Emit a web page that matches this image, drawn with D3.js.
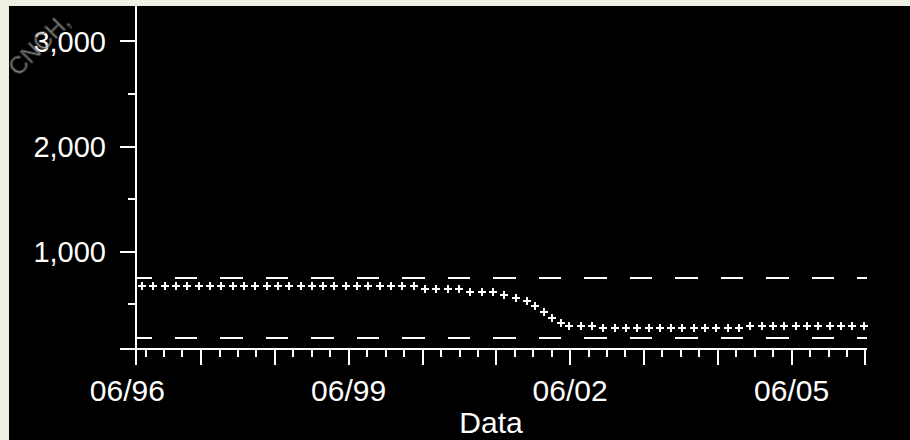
<!DOCTYPE html>
<html><head><meta charset="utf-8">
<script src="https://cdn.jsdelivr.net/npm/d3@7"></script>
<style>
html,body{margin:0;padding:0;background:#eef0e2;}
svg{display:block;}
text{font-family:"Liberation Sans",Arial,sans-serif;}
</style></head>
<body>
<svg id="chart" width="910" height="440"></svg>
<script>
// ---- data ----
const dates = [
  "1996-08-13","1996-10-08","1996-12-03","1997-01-28","1997-03-25","1997-05-20",
  "1997-07-15","1997-09-09","1997-11-04","1997-12-30","1998-02-24","1998-04-21",
  "1998-06-16","1998-08-11","1998-10-06","1998-12-01","1999-01-26","1999-03-23",
  "1999-05-18","1999-07-13","1999-09-07","1999-11-02","1999-12-28","2000-02-22",
  "2000-04-18","2000-06-13","2000-08-08","2000-10-03","2000-11-28","2001-01-23",
  "2001-03-20","2001-05-15","2001-07-10","2001-09-04","2001-10-30","2001-12-11",
  "2002-01-22","2002-03-05","2002-04-16","2002-05-28","2002-07-23","2002-09-17",
  "2002-11-12","2003-01-07","2003-03-04","2003-04-29","2003-06-24","2003-08-19",
  "2003-10-14","2003-12-09","2004-02-03","2004-03-30","2004-05-25","2004-07-20",
  "2004-09-14","2004-11-09","2005-01-04","2005-03-01","2005-04-26","2005-06-21",
  "2005-08-16","2005-10-11","2005-12-06","2006-01-31","2006-03-28","2006-05-23"
];
const values = [
  675,675,675,675,675,675,675,675,675,675,675,675,675,675,675,675,675,675,675,675,
  675,675,675,675,675,647,647,647,647,617,617,617,587,561,534,487,427,374,325,297,
  297,297,273,273,273,273,273,273,273,273,273,273,273,273,273,297,297,297,297,297,
  297,297,297,297,297,297
];
const upperLimit = 755;
const lowerLimit = 184;
const xDomain = ["1996-07-14","2006-06-04"];
const yDomain = [75.5, 3337];
const yMajorTicks = [1000, 2000, 3000];
const yMinorTicks = [500, 1500, 2500];
const xLabelDates = ["1996-06-01","1999-06-01","2002-06-01","2005-06-01"];
const xTitle = "Data";
const watermark = "CNCH,";

// ---- drawing ----
const parse = d3.timeParse("%Y-%m-%d");
const svg = d3.select("#chart");
const W = 910, H = 440;

svg.append("rect").attr("x",9).attr("y",6).attr("width",W-9).attr("height",H-6).attr("fill","#000");

const x = d3.scaleTime().domain(xDomain.map(parse)).range([136, 866]);
const y = d3.scaleLinear().domain(yDomain).range([349, 6]);

const months = d3.timeMonth.range(x.domain()[0], x.domain()[1]).filter(d => (d.getMonth() - 5 + 12) % 3 === 0);
const xMajor = months.filter(d => d.getMonth() === 5);
const xMinor = months.filter(d => d.getMonth() !== 5);

function styleAxis(g){
  g.select(".domain").remove();
  g.selectAll("line").attr("stroke","#fff").attr("stroke-width",2).attr("shape-rendering","crispEdges");
  g.selectAll("text").attr("fill","#fff");
}

// x ticks
svg.append("g").attr("transform","translate(0,349)")
  .call(d3.axisBottom(x).offset(0).tickValues(xMajor).tickSize(16).tickFormat(""))
  .call(styleAxis);
svg.append("g").attr("transform","translate(0,349)")
  .call(d3.axisBottom(x).offset(0).tickValues(xMinor).tickSize(8).tickFormat(""))
  .call(styleAxis);
// x labels
const xl = svg.append("g").attr("transform","translate(0,349)")
  .call(d3.axisBottom(x).offset(0).tickValues(xLabelDates.map(parse)).tickSize(0).tickPadding(0).tickFormat(d3.timeFormat("%m/%y")))
  .call(styleAxis);
xl.selectAll("text").attr("font-size",30).attr("y",52).attr("dy",0);

// y ticks
svg.append("g").attr("transform","translate(136,0)")
  .call(d3.axisLeft(y).offset(0).tickValues(yMajorTicks).tickSize(16).tickPadding(14).tickFormat(d3.format(",")))
  .call(styleAxis)
  .call(g => g.selectAll("text").attr("font-size",29).attr("dy","0.36em"));
svg.append("g").attr("transform","translate(136,0)")
  .call(d3.axisLeft(y).offset(0).tickValues(yMinorTicks).tickSize(8).tickFormat(""))
  .call(styleAxis);

// axis lines (extend past the corner like the reference)
svg.append("line").attr("x1",120).attr("x2",867).attr("y1",y(yDomain[0])).attr("y2",y(yDomain[0]))
  .attr("stroke","#fff").attr("stroke-width",2).attr("shape-rendering","crispEdges");
svg.append("line").attr("x1",136).attr("x2",136).attr("y1",6).attr("y2",y(yDomain[0])+16)
  .attr("stroke","#fff").attr("stroke-width",2).attr("shape-rendering","crispEdges");

// control limit lines
[upperLimit, lowerLimit].forEach(v => {
  svg.append("line").attr("x1",136).attr("x2",867).attr("y1",Math.round(y(v))).attr("y2",Math.round(y(v)))
    .attr("stroke","#fff").attr("stroke-width",2).attr("stroke-dasharray","22.5 23").attr("stroke-dashoffset",7)
    .attr("shape-rendering","crispEdges");
});

// points as crosses
const pts = dates.map((d,i)=>({d:parse(d), v:values[i]}));
svg.append("g").selectAll("path").data(pts).join("path")
  .attr("transform", p => `translate(${Math.round(x(p.d))},${Math.round(y(p.v))})`)
  .attr("d","M-4,0H4M0,-4V4")
  .attr("stroke","#fff").attr("stroke-width",2).attr("fill","none").attr("shape-rendering","crispEdges");

// axis title
svg.append("text").attr("x",491).attr("y",433).attr("text-anchor","middle")
  .attr("font-size",30).attr("fill","#fff").text(xTitle);

// watermark
svg.append("text").attr("transform","translate(18,77) rotate(-45)")
  .attr("font-size",24).attr("fill","#e4e6da").attr("stroke","#555").attr("stroke-width",1)
  .attr("opacity",0.6).text(watermark);
</script>
</body></html>
